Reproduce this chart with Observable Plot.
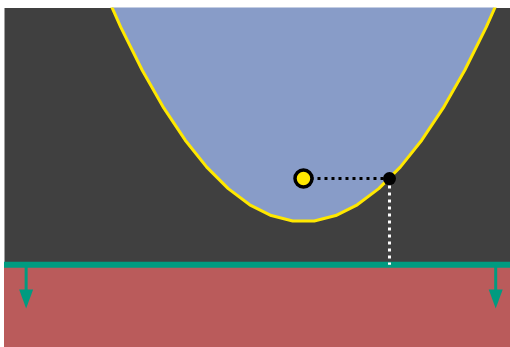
<!DOCTYPE html>
<html><head><meta charset="utf-8">
<script src="https://cdn.jsdelivr.net/npm/d3@7"></script>
<script src="https://cdn.jsdelivr.net/npm/@observablehq/plot@0.6"></script>
<style>body{margin:0;background:#fff}</style>
</head><body><div id="chart"></div>
<script>
const parabolaX = [-4.75,-4.25,-3.75,-3.25,-2.75,-2.25,-1.75,-1.25,-0.75,-0.25,0.25,0.75,1.25,1.75,2.25,2.75,3.25,3.75,4.25,4.75];
const parabolaY = [5.640625,4.515625,3.515625,2.640625,1.890625,1.265625,0.765625,0.390625,0.140625,0.015625,0.015625,0.140625,0.390625,0.765625,1.265625,1.890625,2.640625,3.515625,4.515625,5.640625];
const focus = {x: 0, y: 1};
const curvePoint = {x: 2, y: 1};
const directrixY = -1;
const arrowX = [-6.45, 4.47];
const arrowShaftEnd = -1.6;
const arrowHeadY = -1.795;
const xDomain = [-6.953, 4.814];
const yDomain = [-2.923, 4.96];
const areaTop = 6;

const curve = parabolaX.map((x, i) => ({x, y: parabolaY[i]}));
const arrows = arrowX.map(x => ({x}));

const downTriangle = {
  draw(ctx) {
    ctx.moveTo(-7, -9.5);
    ctx.lineTo(7, -9.5);
    ctx.lineTo(0, 9.5);
    ctx.closePath();
  }
};

const chart = Plot.plot({
  width: 510,
  height: 347,
  marginLeft: 4,
  marginTop: 7.5,
  marginRight: 0,
  marginBottom: 0,
  x: {domain: xDomain, axis: null},
  y: {domain: yDomain, axis: null},
  marks: [
    Plot.frame({fill: "#404040", stroke: null}),
    Plot.rect([{}], {x1: xDomain[0], x2: xDomain[1], y1: yDomain[0], y2: directrixY, fill: "#ba5b5b"}),
    Plot.areaY(curve, {x: "x", y1: "y", y2: areaTop, fill: "#889cc8", clip: true}),
    Plot.line(curve, {x: "x", y: "y", stroke: "#ffe800", strokeWidth: 3, clip: true}),
    Plot.ruleY([directrixY], {stroke: "#009b80", strokeWidth: 6}),
    Plot.ruleX(arrows, {x: "x", y1: directrixY, y2: arrowShaftEnd, stroke: "#009b80", strokeWidth: 3}),
    Plot.dot(arrows, {x: "x", y: arrowHeadY, symbol: downTriangle, fill: "#009b80", stroke: null}),
    Plot.link([curvePoint], {x1: focus.x, y1: focus.y, x2: "x", y2: "y", stroke: "black", strokeWidth: 3, strokeDasharray: "3 4"}),
    Plot.link([curvePoint], {x1: "x", y1: "y", x2: "x", y2: directrixY, stroke: "white", strokeWidth: 3, strokeDasharray: "3 4"}),
    Plot.dot([focus], {x: "x", y: "y", r: 8.5, fill: "#ffe800", stroke: "black", strokeWidth: 3.5}),
    Plot.dot([curvePoint], {x: "x", y: "y", r: 6.5, fill: "black", stroke: null})
  ]
});
document.getElementById("chart").appendChild(chart);
</script>
</body></html>
